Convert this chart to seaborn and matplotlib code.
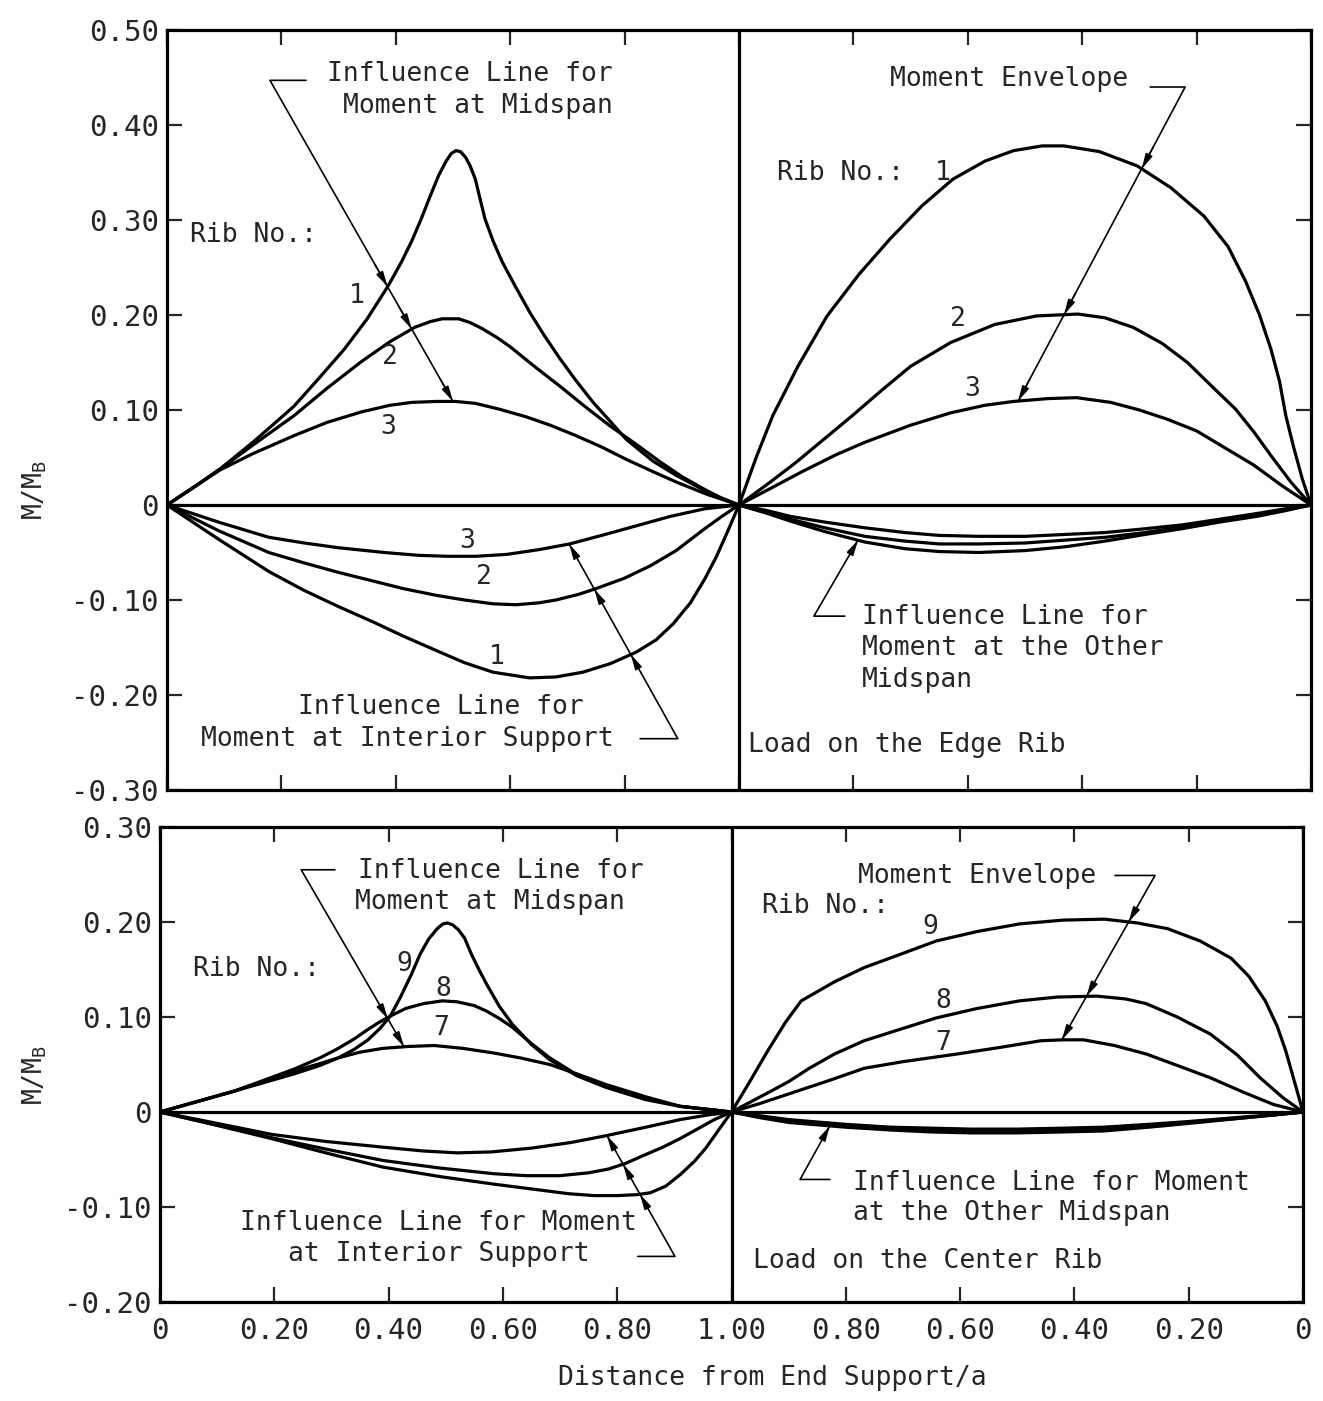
import numpy as np
import matplotlib
matplotlib.use("Agg")
import matplotlib.pyplot as plt
import seaborn as sns

# ---------------- Load on the edge rib (upper panel) ----------------
# Influence lines for moment at midspan (loaded span, x = distance / a)
edge_mid_x1 = [0, 0.05, 0.093, 0.15, 0.19, 0.222, 0.265, 0.31, 0.35, 0.387, 0.41, 0.428, 0.445,
               0.46, 0.475, 0.488, 0.497, 0.505, 0.513, 0.522, 0.53, 0.539, 0.547, 0.556, 0.57,
               0.586, 0.61, 0.634, 0.66, 0.687, 0.715, 0.745, 0.775, 0.803, 0.85, 0.891, 0.95, 1.0]
edge_mid_y1 = [0, 0.020, 0.038, 0.066, 0.087, 0.104, 0.133, 0.164, 0.196, 0.231, 0.256, 0.278,
               0.302, 0.325, 0.347, 0.362, 0.370, 0.373, 0.372, 0.366, 0.357, 0.343, 0.323,
               0.301, 0.278, 0.256, 0.229, 0.203, 0.178, 0.154, 0.131, 0.108, 0.088, 0.069,
               0.046, 0.031, 0.012, 0]
edge_mid_x2 = [0, 0.05, 0.093, 0.15, 0.222, 0.28, 0.34, 0.39, 0.433, 0.46, 0.481, 0.51, 0.53,
               0.55, 0.575, 0.599, 0.64, 0.687, 0.73, 0.775, 0.82, 0.863, 0.9, 0.938, 0.97, 1.0]
edge_mid_y2 = [0, 0.020, 0.038, 0.063, 0.094, 0.123, 0.151, 0.172, 0.187, 0.193, 0.196, 0.196,
               0.192, 0.186, 0.177, 0.167, 0.147, 0.125, 0.104, 0.083, 0.064, 0.045, 0.030,
               0.017, 0.007, 0]
edge_mid_x3 = [0, 0.05, 0.093, 0.15, 0.222, 0.28, 0.34, 0.39, 0.428, 0.47, 0.504, 0.539, 0.58,
               0.627, 0.67, 0.715, 0.76, 0.803, 0.85, 0.891, 0.945, 1.0]
edge_mid_y3 = [0, 0.020, 0.037, 0.054, 0.073, 0.087, 0.098, 0.105, 0.108, 0.109, 0.109, 0.107,
               0.101, 0.093, 0.084, 0.073, 0.061, 0.048, 0.035, 0.024, 0.011, 0]

# Influence lines for moment at interior support
edge_sup_x1 = [0, 0.09, 0.178, 0.24, 0.3, 0.36, 0.413, 0.47, 0.52, 0.57, 0.634, 0.68, 0.727,
               0.775, 0.82, 0.855, 0.885, 0.915, 0.94, 0.96, 0.98, 1.0]
edge_sup_y1 = [0, -0.036, -0.070, -0.090, -0.107, -0.123, -0.138, -0.153, -0.166, -0.176,
               -0.182, -0.181, -0.176, -0.167, -0.155, -0.142, -0.125, -0.103, -0.078, -0.055,
               -0.028, 0]
edge_sup_x2 = [0, 0.09, 0.178, 0.24, 0.3, 0.36, 0.413, 0.47, 0.52, 0.57, 0.61, 0.65, 0.68, 0.72,
               0.75, 0.80, 0.845, 0.89, 0.94, 0.97, 1.0]
edge_sup_y2 = [0, -0.027, -0.050, -0.061, -0.071, -0.080, -0.088, -0.095, -0.100, -0.104,
               -0.105, -0.103, -0.100, -0.094, -0.088, -0.077, -0.064, -0.048, -0.025, -0.012, 0]
edge_sup_x3 = [0, 0.09, 0.178, 0.24, 0.3, 0.38, 0.44, 0.49, 0.54, 0.594, 0.65, 0.704, 0.76,
               0.82, 0.88, 0.94, 1.0]
edge_sup_y3 = [0, -0.018, -0.034, -0.040, -0.045, -0.050, -0.053, -0.054, -0.054, -0.052,
               -0.047, -0.041, -0.032, -0.022, -0.012, -0.004, 0]

# Moment envelopes on the other span (d = distance from its end support / a)
edge_env_d1 = [1.0, 0.97, 0.941, 0.897, 0.846, 0.79, 0.736, 0.68, 0.626, 0.57, 0.52, 0.47, 0.432,
               0.37, 0.304, 0.245, 0.187, 0.145, 0.114, 0.09, 0.07, 0.055, 0.044, 0.03, 0.015, 0]
edge_env_y1 = [0, 0.050, 0.094, 0.146, 0.199, 0.243, 0.280, 0.315, 0.343, 0.362, 0.373, 0.378,
               0.378, 0.372, 0.357, 0.334, 0.304, 0.272, 0.235, 0.200, 0.164, 0.130, 0.094,
               0.060, 0.027, 0]
edge_env_d2 = [1.0, 0.95, 0.9, 0.85, 0.802, 0.75, 0.70, 0.63, 0.553, 0.48, 0.407, 0.36, 0.311,
               0.26, 0.216, 0.17, 0.132, 0.10, 0.07, 0.035, 0]
edge_env_y2 = [0, 0.022, 0.045, 0.070, 0.094, 0.121, 0.146, 0.171, 0.190, 0.199, 0.201, 0.197,
               0.187, 0.170, 0.150, 0.123, 0.101, 0.077, 0.052, 0.024, 0]
edge_env_d3 = [1.0, 0.94, 0.89, 0.83, 0.78, 0.70, 0.63, 0.57, 0.52, 0.46, 0.41, 0.35, 0.30, 0.25,
               0.20, 0.15, 0.10, 0.05, 0]
edge_env_y3 = [0, 0.019, 0.035, 0.053, 0.066, 0.084, 0.097, 0.105, 0.109, 0.112, 0.113, 0.108,
               0.100, 0.090, 0.078, 0.060, 0.042, 0.020, 0]

# Influence lines for moment at the other midspan
edge_oth_d = [1.0, 0.95, 0.91, 0.85, 0.78, 0.71, 0.65, 0.58, 0.5, 0.43, 0.36, 0.29, 0.226, 0.16,
              0.095, 0.045, 0]
edge_oth_y1 = [0, -0.009, -0.017, -0.028, -0.039, -0.046, -0.049, -0.050, -0.048, -0.044,
               -0.038, -0.031, -0.025, -0.018, -0.012, -0.006, 0]
edge_oth_y2 = [0, -0.008, -0.015, -0.024, -0.033, -0.038, -0.041, -0.041, -0.040, -0.037,
               -0.034, -0.029, -0.023, -0.017, -0.010, -0.005, 0]
edge_oth_y3 = [0, -0.006, -0.012, -0.018, -0.024, -0.029, -0.032, -0.033, -0.033, -0.031,
               -0.029, -0.025, -0.021, -0.015, -0.009, -0.004, 0]

# ---------------- Load on the center rib (lower panel) ----------------
cen_mid_x9 = [0, 0.13, 0.234, 0.28, 0.312, 0.34, 0.364, 0.385, 0.403, 0.42, 0.44, 0.455, 0.47,
              0.485, 0.495, 0.503, 0.512, 0.522, 0.533, 0.545, 0.558, 0.572, 0.594, 0.617, 0.65,
              0.682, 0.73, 0.78, 0.85, 0.91, 1.0]
cen_mid_y9 = [0, 0.022, 0.040, 0.049, 0.057, 0.066, 0.076, 0.088, 0.101, 0.120, 0.145, 0.166,
              0.182, 0.193, 0.198, 0.199, 0.197, 0.192, 0.183, 0.166, 0.150, 0.134, 0.111,
              0.092, 0.071, 0.055, 0.038, 0.026, 0.013, 0.006, 0]
cen_mid_x8 = [0, 0.13, 0.234, 0.28, 0.312, 0.34, 0.364, 0.385, 0.403, 0.43, 0.46, 0.494, 0.52,
              0.55, 0.572, 0.595, 0.617, 0.65, 0.682, 0.73, 0.78, 0.85, 0.91, 1.0]
cen_mid_y8 = [0, 0.022, 0.045, 0.057, 0.067, 0.077, 0.087, 0.095, 0.101, 0.109, 0.114, 0.117,
              0.116, 0.112, 0.106, 0.098, 0.089, 0.072, 0.057, 0.039, 0.027, 0.014, 0.006, 0]
cen_mid_x7 = [0, 0.13, 0.234, 0.28, 0.312, 0.35, 0.39, 0.435, 0.48, 0.53, 0.585, 0.63, 0.682,
              0.73, 0.78, 0.85, 0.91, 1.0]
cen_mid_y7 = [0, 0.022, 0.043, 0.051, 0.057, 0.063, 0.067, 0.069, 0.070, 0.067, 0.062, 0.057,
              0.050, 0.040, 0.029, 0.016, 0.006, 0]

cen_sup_x7 = [0, 0.1, 0.195, 0.29, 0.39, 0.46, 0.52, 0.58, 0.65, 0.72, 0.78, 0.85, 0.91, 0.96, 1.0]
cen_sup_y7 = [0, -0.012, -0.0235, -0.031, -0.037, -0.041, -0.043, -0.042, -0.038, -0.032,
              -0.025, -0.016, -0.008, -0.003, 0]
cen_sup_x8 = [0, 0.1, 0.195, 0.29, 0.39, 0.49, 0.585, 0.64, 0.70, 0.75, 0.785, 0.815, 0.845,
              0.88, 0.91, 0.94, 0.97, 1.0]
cen_sup_y8 = [0, -0.014, -0.027, -0.039, -0.051, -0.059, -0.065, -0.067, -0.067, -0.064,
              -0.060, -0.054, -0.046, -0.037, -0.028, -0.018, -0.008, 0]
cen_sup_x9 = [0, 0.1, 0.195, 0.29, 0.39, 0.49, 0.585, 0.65, 0.715, 0.76, 0.80, 0.835, 0.858,
              0.885, 0.91, 0.935, 0.955, 0.975, 1.0]
cen_sup_y9 = [0, -0.014, -0.028, -0.043, -0.058, -0.068, -0.076, -0.081, -0.086, -0.088,
              -0.088, -0.087, -0.085, -0.078, -0.066, -0.052, -0.038, -0.021, 0]

cen_env_d9 = [1.0, 0.97, 0.937, 0.905, 0.878, 0.82, 0.768, 0.70, 0.642, 0.57, 0.496, 0.42,
              0.347, 0.29, 0.237, 0.18, 0.126, 0.095, 0.066, 0.045, 0.03, 0.015, 0]
cen_env_y9 = [0, 0.030, 0.064, 0.095, 0.117, 0.137, 0.152, 0.167, 0.180, 0.190, 0.198, 0.202,
              0.203, 0.199, 0.193, 0.180, 0.162, 0.143, 0.117, 0.090, 0.064, 0.032, 0]
cen_env_d8 = [1.0, 0.937, 0.9, 0.864, 0.82, 0.768, 0.70, 0.642, 0.57, 0.496, 0.43, 0.361, 0.31,
              0.274, 0.22, 0.162, 0.115, 0.075, 0.035, 0]
cen_env_y8 = [0, 0.020, 0.032, 0.046, 0.061, 0.075, 0.088, 0.099, 0.109, 0.117, 0.121, 0.122,
              0.119, 0.114, 0.100, 0.082, 0.060, 0.036, 0.015, 0]
cen_env_d7 = [1.0, 0.95, 0.9, 0.83, 0.768, 0.70, 0.606, 0.53, 0.459, 0.42, 0.384, 0.33, 0.274,
              0.22, 0.162, 0.105, 0.052, 0]
cen_env_y7 = [0, 0.009, 0.019, 0.033, 0.046, 0.053, 0.061, 0.068, 0.075, 0.076, 0.076, 0.070,
              0.061, 0.049, 0.036, 0.021, 0.008, 0]

cen_oth_d = [1.0, 0.95, 0.9, 0.8, 0.72, 0.65, 0.58, 0.5, 0.42, 0.35, 0.27, 0.2, 0.1, 0.05, 0]
cen_oth_y7 = [0, -0.004, -0.008, -0.013, -0.016, -0.017, -0.018, -0.018, -0.017, -0.016,
              -0.013, -0.010, -0.005, -0.003, 0]
cen_oth_y8 = [0, -0.005, -0.010, -0.015, -0.018, -0.019, -0.020, -0.020, -0.019, -0.018,
              -0.014, -0.011, -0.006, -0.003, 0]
cen_oth_y9 = [0, -0.006, -0.011, -0.016, -0.019, -0.021, -0.022, -0.022, -0.021, -0.020,
              -0.016, -0.012, -0.006, -0.003, 0]

# Tick labels
x_tick_labels = ["0", "0.20", "0.40", "0.60", "0.80", "1.00", "0.80", "0.60", "0.40", "0.20", "0"]
top_y_ticks = [0.50, 0.40, 0.30, 0.20, 0.10, 0, -0.10, -0.20, -0.30]
top_y_labels = ["0.50", "0.40", "0.30", "0.20", "0.10", "0", "-0.10", "-0.20", "-0.30"]
bot_y_ticks = [0.30, 0.20, 0.10, 0, -0.10, -0.20]
bot_y_labels = ["0.30", "0.20", "0.10", "0", "-0.10", "-0.20"]

# ---------------- figure ----------------
sns.set_style("ticks")
plt.rcParams['font.family'] = ['DejaVu Sans Mono']
plt.rcParams['mathtext.fontset'] = 'custom'
plt.rcParams['mathtext.rm'] = 'DejaVu Sans Mono'

LW = 2.3
FS = 19

fig = plt.figure(figsize=(13.23, 14.01), dpi=100)
ax_top = fig.add_axes([0.12623, 0.43612, 0.86470, 0.54247])
ax_bot = fig.add_axes([0.12094, 0.07066, 0.86395, 0.33904])


def left_curve(ax, x, y):
    x = np.asarray(x, float)
    y = np.asarray(y, float)
    sns.lineplot(x=x, y=y, ax=ax, color="black", lw=LW, sort=False, estimator=None,
                 solid_joinstyle="round", solid_capstyle="round")
    return x, y


def right_curve(ax, d, y):
    # the second span is measured from its own end support, so it runs backwards
    return left_curve(ax, 2.0 - np.asarray(d, float), y)


def crossings(A, B, curve):
    cx, cy = curve
    t = np.linspace(0.03, 0.97, 4000)
    lx = A[0] + t * (B[0] - A[0])
    ly = A[1] + t * (B[1] - A[1])
    f = ly - np.interp(lx, cx, cy)
    idx = np.where(np.sign(f[:-1]) != np.sign(f[1:]))[0]
    return [(lx[i], ly[i]) for i in idx]


def head(ax, P, A, B):
    A = np.asarray(A)
    B = np.asarray(B)
    start = np.asarray(P) - 0.07 * (B - A)
    ax.annotate("", xy=P, xytext=start,
                arrowprops=dict(arrowstyle="-|>,head_length=0.9,head_width=0.22",
                                color="black", lw=1.1, shrinkA=0, shrinkB=0,
                                mutation_scale=10))


def leader(ax, stub, A, tip_x, target, crossed):
    tip = (tip_x, float(np.interp(tip_x, target[0], target[1])))
    ax.plot([stub[0], A[0], tip[0]], [stub[1], A[1], tip[1]], color="black", lw=1.2)
    for c in crossed:
        for P in crossings(A, tip, c):
            head(ax, P, A, tip)
    head(ax, tip, A, tip)


def style(ax, ylo, yhi, yticks, ylabels, xlabels):
    ax.set_xlim(0, 2)
    ax.set_ylim(ylo, yhi)
    ax.set_xticks(np.round(np.arange(0, 2.01, 0.2), 2))
    ax.set_xticklabels(x_tick_labels if xlabels else [])
    ax.set_yticks(yticks)
    ax.set_yticklabels(ylabels)
    ax.tick_params(axis="both", direction="in", length=11, width=1.6, top=True, right=True,
                   labelsize=21, labelright=False, labeltop=False)
    ax.tick_params(axis="y", pad=6)
    ax.tick_params(axis="x", pad=11)
    for s in ax.spines.values():
        s.set_visible(True)
        s.set_linewidth(LW)
        s.set_color("black")
    ax.axvline(1.0, color="black", lw=LW)
    ax.axhline(0.0, color="black", lw=LW)
    ax.set_xlabel("")
    ax.set_ylabel("")


# ---- upper panel: load on the edge rib ----
ax = ax_top
m1 = left_curve(ax, edge_mid_x1, edge_mid_y1)
m2 = left_curve(ax, edge_mid_x2, edge_mid_y2)
m3 = left_curve(ax, edge_mid_x3, edge_mid_y3)
s1 = left_curve(ax, edge_sup_x1, edge_sup_y1)
s2 = left_curve(ax, edge_sup_x2, edge_sup_y2)
s3 = left_curve(ax, edge_sup_x3, edge_sup_y3)
e1 = right_curve(ax, edge_env_d1, edge_env_y1)
e2 = right_curve(ax, edge_env_d2, edge_env_y2)
e3 = right_curve(ax, edge_env_d3, edge_env_y3)
o1 = right_curve(ax, edge_oth_d, edge_oth_y1)
o2 = right_curve(ax, edge_oth_d, edge_oth_y2)
o3 = right_curve(ax, edge_oth_d, edge_oth_y3)
style(ax, -0.30, 0.50, top_y_ticks, top_y_labels, False)

ax.text(0.78, 0.454, "Influence Line for", ha="right", va="center", fontsize=FS)
ax.text(0.78, 0.420, "Moment at Midspan", ha="right", va="center", fontsize=FS)
leader(ax, (0.243, 0.447), (0.180, 0.447), 0.500, m3, [m1, m2])

ax.text(0.040, 0.284, "Rib No.:", ha="left", va="center", fontsize=FS)
for lbl, x, y in [("1", 0.332, 0.220), ("2", 0.390, 0.156), ("3", 0.386, 0.082),
                  ("3", 0.524, -0.038), ("2", 0.554, -0.076), ("1", 0.577, -0.160)]:
    ax.text(x, y, lbl, ha="center", va="center", fontsize=FS)

ax.text(0.479, -0.213, "Influence Line for", ha="center", va="center", fontsize=FS)
ax.text(0.420, -0.246, "Moment at Interior Support", ha="center", va="center", fontsize=FS)
leader(ax, (0.827, -0.246), (0.893, -0.246), 0.703, s3, [s1, s2])

ax.text(1.264, 0.448, "Moment Envelope", ha="left", va="center", fontsize=FS)
leader(ax, (1.719, 0.440), (1.780, 0.440), 1.488, e3, [e1, e2])
ax.text(1.066, 0.349, "Rib No.:", ha="left", va="center", fontsize=FS)
for lbl, x, y in [("1", 1.357, 0.349), ("2", 1.383, 0.196), ("3", 1.407, 0.122)]:
    ax.text(x, y, lbl, ha="center", va="center", fontsize=FS)

for i, line in enumerate(["Influence Line for", "Moment at the Other", "Midspan"]):
    ax.text(1.215, -0.118 - 0.033 * i, line, ha="left", va="center", fontsize=FS)
leader(ax, (1.185, -0.117), (1.131, -0.117), 1.208, o1, [])
ax.text(1.016, -0.253, "Load on the Edge Rib", ha="left", va="center", fontsize=FS)

# ---- lower panel: load on the center rib ----
ax = ax_bot
c9 = left_curve(ax, cen_mid_x9, cen_mid_y9)
c8 = left_curve(ax, cen_mid_x8, cen_mid_y8)
c7 = left_curve(ax, cen_mid_x7, cen_mid_y7)
t7 = left_curve(ax, cen_sup_x7, cen_sup_y7)
t8 = left_curve(ax, cen_sup_x8, cen_sup_y8)
t9 = left_curve(ax, cen_sup_x9, cen_sup_y9)
v9 = right_curve(ax, cen_env_d9, cen_env_y9)
v8 = right_curve(ax, cen_env_d8, cen_env_y8)
v7 = right_curve(ax, cen_env_d7, cen_env_y7)
w7 = right_curve(ax, cen_oth_d, cen_oth_y7)
w8 = right_curve(ax, cen_oth_d, cen_oth_y8)
w9 = right_curve(ax, cen_oth_d, cen_oth_y9)
style(ax, -0.20, 0.30, bot_y_ticks, bot_y_labels, True)

ax.text(0.346, 0.254, "Influence Line for", ha="left", va="center", fontsize=FS)
ax.text(0.341, 0.221, "Moment at Midspan", ha="left", va="center", fontsize=FS)
leader(ax, (0.306, 0.255), (0.247, 0.255), 0.427, c7, [c9])
ax.text(0.058, 0.151, "Rib No.:", ha="left", va="center", fontsize=FS)
for lbl, x, y in [("9", 0.427, 0.156), ("8", 0.495, 0.129), ("7", 0.492, 0.088)]:
    ax.text(x, y, lbl, ha="center", va="center", fontsize=FS)

ax.text(0.488, -0.117, "Influence Line for Moment", ha="center", va="center", fontsize=FS)
ax.text(0.488, -0.149, "at Interior Support", ha="center", va="center", fontsize=FS)
leader(ax, (0.836, -0.152), (0.901, -0.152), 0.782, t7, [t8, t9])

ax.text(1.221, 0.248, "Moment Envelope", ha="left", va="center", fontsize=FS)
leader(ax, (1.671, 0.249), (1.741, 0.249), 1.578, v7, [v9, v8])
ax.text(1.053, 0.217, "Rib No.:", ha="left", va="center", fontsize=FS)
for lbl, x, y in [("9", 1.347, 0.195), ("8", 1.370, 0.117), ("7", 1.370, 0.073)]:
    ax.text(x, y, lbl, ha="center", va="center", fontsize=FS)

ax.text(1.213, -0.075, "Influence Line for Moment", ha="left", va="center", fontsize=FS)
ax.text(1.213, -0.106, "at the Other Midspan", ha="left", va="center", fontsize=FS)
leader(ax, (1.172, -0.071), (1.120, -0.071), 1.172, w9, [])
ax.text(1.038, -0.157, "Load on the Center Rib", ha="left", va="center", fontsize=FS)

# shared labels
ylab = r"M/M$_\mathregular{B}$"
fig.text(0.026, 0.650, ylab, rotation=90, ha="center", va="center", fontsize=FS)
fig.text(0.026, 0.233, ylab, rotation=90, ha="center", va="center", fontsize=FS)
fig.text(0.584, 0.0164, "Distance from End Support/a", ha="center", va="center", fontsize=FS)

fig.savefig("out.png", dpi=100, facecolor="white")
